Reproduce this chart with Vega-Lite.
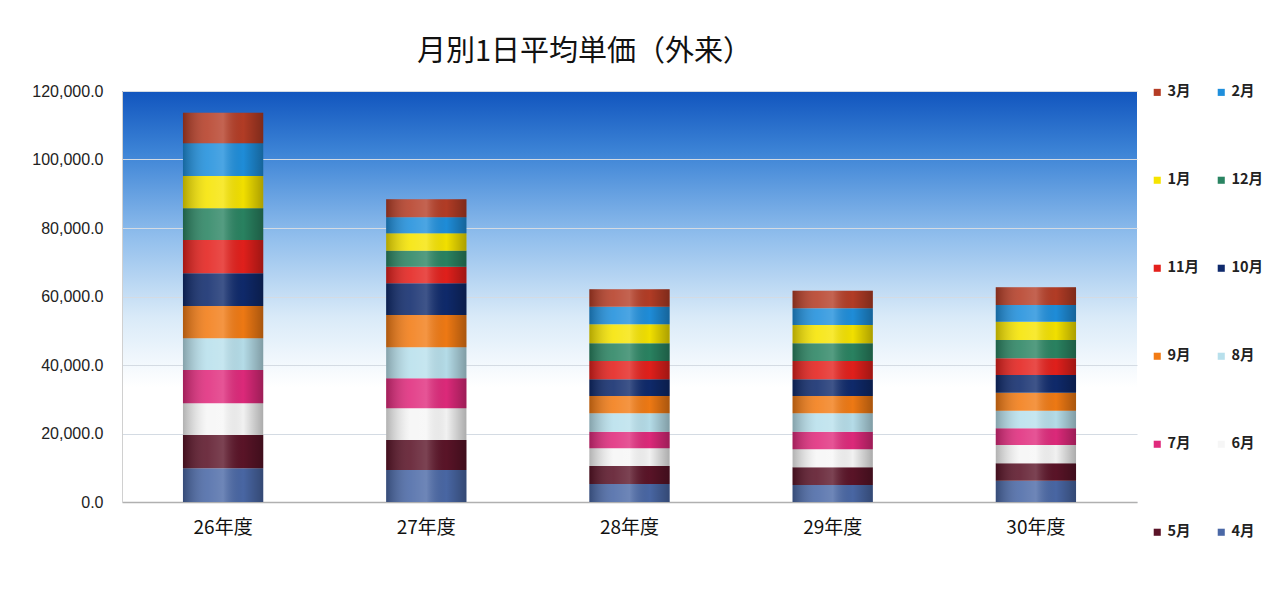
{
  "$schema": "https://vega.github.io/schema/vega-lite/v6.json",
  "autosize": {"type": "none"},
  "width": 1015,
  "height": 411,
  "padding": {"left": 122, "top": 91, "right": 148, "bottom": 94},
  "background": "white",
  "title": {
    "text": "月別1日平均単価（外来）",
    "font": "Noto Sans CJK JP",
    "fontSize": 29,
    "fontWeight": "normal",
    "color": "#111111",
    "anchor": "middle",
    "dx": -45,
    "offset": 16
  },
  "data": {
    "values": [
      {"year": "26年度", "month": "4月", "n": 1, "value": 9840},
      {"year": "26年度", "month": "5月", "n": 2, "value": 9720},
      {"year": "26年度", "month": "6月", "n": 3, "value": 9250},
      {"year": "26年度", "month": "7月", "n": 4, "value": 9720},
      {"year": "26年度", "month": "8月", "n": 5, "value": 9250},
      {"year": "26年度", "month": "9月", "n": 6, "value": 9430},
      {"year": "26年度", "month": "10月", "n": 7, "value": 9550},
      {"year": "26年度", "month": "11月", "n": 8, "value": 9720},
      {"year": "26年度", "month": "12月", "n": 9, "value": 9250},
      {"year": "26年度", "month": "1月", "n": 10, "value": 9430},
      {"year": "26年度", "month": "2月", "n": 11, "value": 9550},
      {"year": "26年度", "month": "3月", "n": 12, "value": 8930},
      {"year": "27年度", "month": "4月", "n": 1, "value": 9340},
      {"year": "27年度", "month": "5月", "n": 2, "value": 8760},
      {"year": "27年度", "month": "6月", "n": 3, "value": 9250},
      {"year": "27年度", "month": "7月", "n": 4, "value": 8760},
      {"year": "27年度", "month": "8月", "n": 5, "value": 9050},
      {"year": "27年度", "month": "9月", "n": 6, "value": 9430},
      {"year": "27年度", "month": "10月", "n": 7, "value": 9250},
      {"year": "27年度", "month": "11月", "n": 8, "value": 4850},
      {"year": "27年度", "month": "12月", "n": 9, "value": 4670},
      {"year": "27年度", "month": "1月", "n": 10, "value": 5080},
      {"year": "27年度", "month": "2月", "n": 11, "value": 4670},
      {"year": "27年度", "month": "3月", "n": 12, "value": 5260},
      {"year": "28年度", "month": "4月", "n": 1, "value": 5260},
      {"year": "28年度", "month": "5月", "n": 2, "value": 5260},
      {"year": "28年度", "month": "6月", "n": 3, "value": 5170},
      {"year": "28年度", "month": "7月", "n": 4, "value": 4850},
      {"year": "28年度", "month": "8月", "n": 5, "value": 5370},
      {"year": "28年度", "month": "9月", "n": 6, "value": 5050},
      {"year": "28年度", "month": "10月", "n": 7, "value": 4880},
      {"year": "28年度", "month": "11月", "n": 8, "value": 5340},
      {"year": "28年度", "month": "12月", "n": 9, "value": 5170},
      {"year": "28年度", "month": "1月", "n": 10, "value": 5550},
      {"year": "28年度", "month": "2月", "n": 11, "value": 5140},
      {"year": "28年度", "month": "3月", "n": 12, "value": 5080},
      {"year": "29年度", "month": "4月", "n": 1, "value": 4960},
      {"year": "29年度", "month": "5月", "n": 2, "value": 5170},
      {"year": "29年度", "month": "6月", "n": 3, "value": 5260},
      {"year": "29年度", "month": "7月", "n": 4, "value": 5140},
      {"year": "29年度", "month": "8月", "n": 5, "value": 5370},
      {"year": "29年度", "month": "9月", "n": 6, "value": 5050},
      {"year": "29年度", "month": "10月", "n": 7, "value": 4880},
      {"year": "29年度", "month": "11月", "n": 8, "value": 5340},
      {"year": "29年度", "month": "12月", "n": 9, "value": 5170},
      {"year": "29年度", "month": "1月", "n": 10, "value": 5340},
      {"year": "29年度", "month": "2月", "n": 11, "value": 4880},
      {"year": "29年度", "month": "3月", "n": 12, "value": 5140},
      {"year": "30年度", "month": "4月", "n": 1, "value": 6220},
      {"year": "30年度", "month": "5月", "n": 2, "value": 5080},
      {"year": "30年度", "month": "6月", "n": 3, "value": 5340},
      {"year": "30年度", "month": "7月", "n": 4, "value": 4880},
      {"year": "30年度", "month": "8月", "n": 5, "value": 5140},
      {"year": "30年度", "month": "9月", "n": 6, "value": 5260},
      {"year": "30年度", "month": "10月", "n": 7, "value": 5170},
      {"year": "30年度", "month": "11月", "n": 8, "value": 4880},
      {"year": "30年度", "month": "12月", "n": 9, "value": 5340},
      {"year": "30年度", "month": "1月", "n": 10, "value": 5340},
      {"year": "30年度", "month": "2月", "n": 11, "value": 4880},
      {"year": "30年度", "month": "3月", "n": 12, "value": 5170}
    ]
  },
  "encoding": {
    "x": {
      "field": "year",
      "type": "nominal",
      "sort": null,
      "scale": {"paddingInner": 0.605, "paddingOuter": 0.3},
      "axis": {
        "title": null,
        "labelAngle": 0,
        "labelFont": "Noto Sans CJK JP",
        "labelFontSize": 19,
        "labelFontWeight": "normal",
        "labelColor": "#111111",
        "labelPadding": 16,
        "ticks": false,
        "domain": true,
        "domainColor": "#b0b0b0",
        "domainWidth": 1.5
      }
    },
    "y": {
      "aggregate": "sum",
      "field": "value",
      "type": "quantitative",
      "scale": {"domain": [0, 120000], "nice": false},
      "axis": {
        "title": null,
        "values": [0, 20000, 40000, 60000, 80000, 100000, 120000],
        "format": ",.1f",
        "labelFont": "Liberation Sans",
        "labelFontSize": 16,
        "labelColor": "#222222",
        "labelPadding": 19,
        "ticks": false,
        "domain": true,
        "domainColor": "#d0d0d0",
        "grid": true,
        "gridColor": "#d4dbe3",
        "gridWidth": 1.2
      }
    }
  },
  "layer": [
    {
      "mark": {"type": "bar"},
      "encoding": {
        "color": {
          "field": "month",
          "type": "nominal",
          "scale": {
            "domain": ["3月", "2月", "1月", "12月", "11月", "10月", "9月", "8月", "7月", "6月", "5月", "4月"],
            "range": ["#b53d26", "#1f8fdc", "#f6e400", "#2a8462", "#e4201c", "#0f2a6c", "#f27b14", "#b8e0ec", "#e02a7c", "#f6f6f6", "#5b1428", "#4a68a6"]
          },
          "legend": {
            "title": null,
            "orient": "none",
            "direction": "horizontal",
            "legendX": 1028,
            "legendY": -6,
            "columns": 2,
            "columnPadding": 14,
            "rowPadding": 73,
            "symbolType": "square",
            "symbolSize": 50,
            "symbolStrokeWidth": 0,
            "symbolOffset": 0,
            "labelOffset": 3,
            "labelFont": "Noto Sans CJK JP",
            "labelFontSize": 14.5,
            "labelFontWeight": "bold",
            "labelColor": "#222222",
            "gridAlign": "all"
          }
        },
        "order": {"field": "n", "type": "quantitative"}
      }
    },
    {
      "mark": {
        "type": "bar",
        "fill": {
          "gradient": "linear",
          "x1": 0, "y1": 0, "x2": 1, "y2": 0,
          "stops": [
            {"offset": 0, "color": "rgba(0,0,0,0.28)"},
            {"offset": 0.3, "color": "rgba(255,255,255,0.12)"},
            {"offset": 0.5, "color": "rgba(255,255,255,0.2)"},
            {"offset": 0.75, "color": "rgba(0,0,0,0.02)"},
            {"offset": 1, "color": "rgba(0,0,0,0.3)"}
          ]
        }
      }
    }
  ],
  "config": {
    "view": {
      "stroke": null,
      "fill": {
        "gradient": "linear",
        "x1": 0, "y1": 0, "x2": 0, "y2": 1,
        "stops": [
          {"offset": 0, "color": "#1155be"},
          {"offset": 0.15, "color": "#3d84d6"},
          {"offset": 0.35, "color": "#8fbdec"},
          {"offset": 0.55, "color": "#d9eaf8"},
          {"offset": 0.72, "color": "#ffffff"},
          {"offset": 1, "color": "#ffffff"}
        ]
      }
    }
  }
}
